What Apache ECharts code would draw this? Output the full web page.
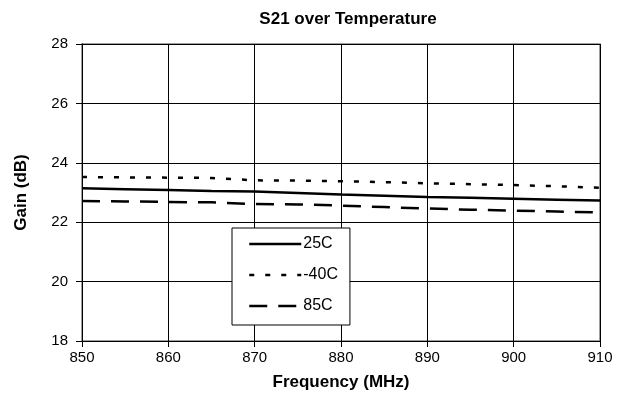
<!DOCTYPE html>
<html>
<head>
	<meta charset="UTF-8">
	<title>S21 over Temperature</title>
	<script src="https://cdn.jsdelivr.net/npm/echarts@6/dist/echarts.min.js"></script>
	<style>
		html, body { margin: 0; padding: 0; background: #fff; }
		#main { width: 618px; height: 411px; }
	</style>
</head>
<body>
<div id="main"></div>
<script type="text/javascript">
	var freq = [850, 855, 860, 865, 870, 875, 880, 885, 890, 895, 900, 905, 910];
	var gain25 = [23.14, 23.11, 23.08, 23.05, 23.03, 22.98, 22.93, 22.89, 22.85, 22.82, 22.79, 22.76, 22.73];
	var gainM40 = [23.52, 23.51, 23.50, 23.49, 23.41, 23.40, 23.38, 23.35, 23.31, 23.28, 23.25, 23.21, 23.16];
	var gain85 = [22.71, 22.70, 22.68, 22.67, 22.61, 22.60, 22.56, 22.51, 22.46, 22.42, 22.39, 22.36, 22.33];
	var seriesNames = ['25C', '-40C', '85C'];

	function pairs(ys) {
		return freq.map(function (f, i) { return [f, ys[i]]; });
	}

	var font = 'Liberation Sans, Arial, sans-serif';
	var myChart = echarts.init(document.getElementById('main'));

	var option = {
		backgroundColor: '#fff',
		animation: false,
		title: {
			text: 'S21 over Temperature',
			left: 343,
			textAlign: 'center',
			top: 6,
			textStyle: { fontFamily: font, fontSize: 17, fontWeight: 'bold', color: '#000' }
		},
		legend: {
			data: seriesNames,
			orient: 'vertical',
			left: 232,
			top: 228,
			itemWidth: 52,
			itemHeight: 14,
			itemGap: 15,
			padding: [8, 12, 11, 16],
			backgroundColor: '#fff',
			borderColor: '#000',
			borderWidth: 1,
			borderRadius: 0,
			itemStyle: { opacity: 0 },
			lineStyle: { width: 2.5 },
			textStyle: { fontFamily: font, fontSize: 16, color: '#000', padding: [0, 0, 0, -3] }
		},
		grid: {
			left: 82,
			right: 18,
			top: 44,
			bottom: 70,
			show: true,
			borderColor: '#808080',
			borderWidth: 1.5
		},
		xAxis: {
			type: 'value',
			min: 850,
			max: 910,
			interval: 10,
			name: 'Frequency (MHz)',
			nameLocation: 'middle',
			nameGap: 33,
			nameTextStyle: { fontFamily: font, fontSize: 17, fontWeight: 'bold', color: '#000' },
			axisLine: { lineStyle: { color: '#000', width: 1 } },
			axisTick: { show: true, length: 6, lineStyle: { color: '#000' } },
			axisLabel: { fontFamily: font, fontSize: 15, color: '#000', margin: 9 },
			splitLine: { show: true, lineStyle: { color: '#000', width: 1 } }
		},
		yAxis: {
			type: 'value',
			min: 18,
			max: 28,
			interval: 2,
			name: 'Gain (dB)',
			nameLocation: 'middle',
			nameGap: 52,
			nameTextStyle: { fontFamily: font, fontSize: 17, fontWeight: 'bold', color: '#000' },
			axisLine: { show: true, lineStyle: { color: '#000', width: 1 } },
			axisTick: { show: true, length: 6, lineStyle: { color: '#000' } },
			axisLabel: { fontFamily: font, fontSize: 15, color: '#000', margin: 14 },
			splitLine: { show: true, lineStyle: { color: '#000', width: 1 } }
		},
		series: [
			{
				name: seriesNames[0],
				type: 'line',
				data: pairs(gain25),
				symbol: 'none',
				lineStyle: { color: '#000', width: 2.5, type: 'solid' },
				itemStyle: { color: '#000' }
			},
			{
				name: seriesNames[1],
				type: 'line',
				data: pairs(gainM40),
				symbol: 'none',
				lineStyle: { color: '#000', width: 2.5, type: [5, 11] },
				itemStyle: { color: '#000' }
			},
			{
				name: seriesNames[2],
				type: 'line',
				data: pairs(gain85),
				symbol: 'none',
				lineStyle: { color: '#000', width: 2.5, type: [18, 11] },
				itemStyle: { color: '#000' }
			}
		]
	};
	myChart.setOption(option);
</script>
</body>
</html>
